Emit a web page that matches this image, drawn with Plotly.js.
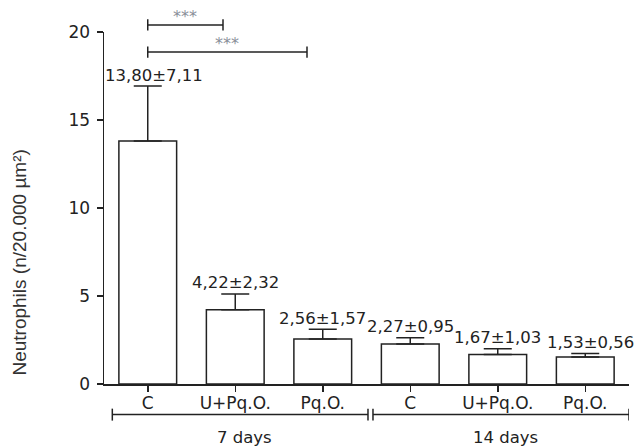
<!DOCTYPE html>
<html>
<head>
<meta charset="utf-8">
<script src="https://cdn.plot.ly/plotly-3.0.1.min.js"></script>
<style>html,body{margin:0;padding:0;background:#fff;}#chart{width:638px;height:446px;}</style>
</head>
<body>
<div id="chart"></div>
<script>
// Data
const categories = ["C", "U+Pq.O.", "Pq.O.", "C", "U+Pq.O.", "Pq.O."];
const means = [13.80, 4.22, 2.56, 2.27, 1.67, 1.53];
const errUpper = [3.13, 0.90, 0.55, 0.36, 0.33, 0.21];
const valueLabels = ["13,80±7,11", "4,22±2,32", "2,56±1,57", "2,27±0,95", "1,67±1,03", "1,53±0,56"];
const groupNames = ["7 days", "14 days"];
const sigLabels = ["***", "***"];
const yTicks = [0, 5, 10, 15, 20];
const yTitle = "Neutrophils (n/20.000 µm²)";

const FONT = "DejaVu Sans, Verdana, sans-serif";
const INK = "#222";
const idx = categories.map((_, i) => i);

const trace = {
  type: "bar",
  x: idx,
  y: means,
  width: 0.66,
  marker: { color: "#fff", line: { color: INK, width: 1.5 } },
  error_y: {
    type: "data", symmetric: false, array: errUpper,
    arrayminus: means.map(() => 0),
    color: INK, thickness: 1.5, width: 14
  },
  hoverinfo: "skip"
};

const annotations = [];
valueLabels.forEach((t, i) => {
  annotations.push({
    x: i, y: means[i] + errUpper[i], xref: "x", yref: "y",
    text: t, showarrow: false, yanchor: "middle", yshift: 11,
    xshift: i === 0 ? 6 : (i === 5 ? 5 : 0),
    font: { family: FONT, size: 16.5, color: INK }
  });
});

// significance brackets (top)
const shapes = [];
const brackets = [
  { x0: 0, x1: 0.86, y: 1.02, label: sigLabels[0] },
  { x0: 0, x1: 1.82, y: 0.943, label: sigLabels[1] }
];
brackets.forEach(b => {
  shapes.push({ type: "line", xref: "x", yref: "paper", x0: b.x0, x1: b.x1, y0: b.y, y1: b.y, line: { color: INK, width: 1.5 } });
  shapes.push({ type: "line", xref: "x", yref: "paper", x0: b.x0, x1: b.x0, y0: b.y - 0.016, y1: b.y + 0.016, line: { color: INK, width: 1.5 } });
  shapes.push({ type: "line", xref: "x", yref: "paper", x0: b.x1, x1: b.x1, y0: b.y - 0.016, y1: b.y + 0.016, line: { color: INK, width: 1.5 } });
  annotations.push({
    x: (b.x0 + b.x1) / 2, y: b.y, xref: "x", yref: "paper", text: b.label,
    showarrow: false, yanchor: "bottom", yshift: -3,
    font: { family: FONT, size: 16, color: "#8a8f99" }
  });
});

// group brackets (bottom)
const groups = [
  { x0: -0.405, x1: 2.517, name: groupNames[0] },
  { x0: 2.574, x1: 5.5, name: groupNames[1] }
];
const gy = -0.087;
groups.forEach(g => {
  shapes.push({ type: "line", xref: "x", yref: "paper", x0: g.x0, x1: g.x1, y0: gy, y1: gy, line: { color: INK, width: 1.5 } });
  shapes.push({ type: "line", xref: "x", yref: "paper", x0: g.x0, x1: g.x0, y0: gy - 0.017, y1: gy + 0.017, line: { color: INK, width: 1.5 } });
  shapes.push({ type: "line", xref: "x", yref: "paper", x0: g.x1, x1: g.x1, y0: gy - 0.017, y1: gy + 0.017, line: { color: INK, width: 1.5 } });
  annotations.push({
    x: (g.x0 + g.x1) / 2 + 0.05, y: -0.151, xref: "x", yref: "paper", text: g.name,
    showarrow: false, yanchor: "middle",
    font: { family: FONT, size: 16.5, color: INK }
  });
});

// y-axis title as rotated annotation
annotations.push({
  x: -0.16, y: 0.345, xref: "paper", yref: "paper", text: yTitle,
  textangle: -90, showarrow: false, xanchor: "center", yanchor: "middle",
  font: { family: "Liberation Sans, Arial, sans-serif", size: 19, color: "#333" }
});

const layout = {
  width: 638, height: 446,
  margin: { l: 104, r: 9, t: 32, b: 62 },
  paper_bgcolor: "#fff", plot_bgcolor: "#fff",
  showlegend: false,
  font: { family: FONT, color: INK },
  xaxis: {
    range: [-0.5, 5.5], tickmode: "array", tickvals: idx, ticktext: categories,
    showline: true, linecolor: INK, linewidth: 1.5, ticks: "outside", ticklen: 6, tickwidth: 1.5, tickcolor: INK,
    showgrid: false, zeroline: false, tickfont: { family: FONT, size: 17, color: INK },
    ticklabelstandoff: -3, fixedrange: true
  },
  yaxis: {
    range: [0, 20], tickmode: "array", tickvals: yTicks,
    showline: true, linecolor: INK, linewidth: 1.5, ticks: "outside", ticklen: 6, tickwidth: 1.5, tickcolor: INK,
    showgrid: false, zeroline: false, tickfont: { family: FONT, size: 17, color: INK },
    ticklabelstandoff: 3,
    fixedrange: true
  },
  shapes: shapes,
  annotations: annotations
};

Plotly.newPlot("chart", [trace], layout, { staticPlot: true, displayModeBar: false });
</script>
</body>
</html>
